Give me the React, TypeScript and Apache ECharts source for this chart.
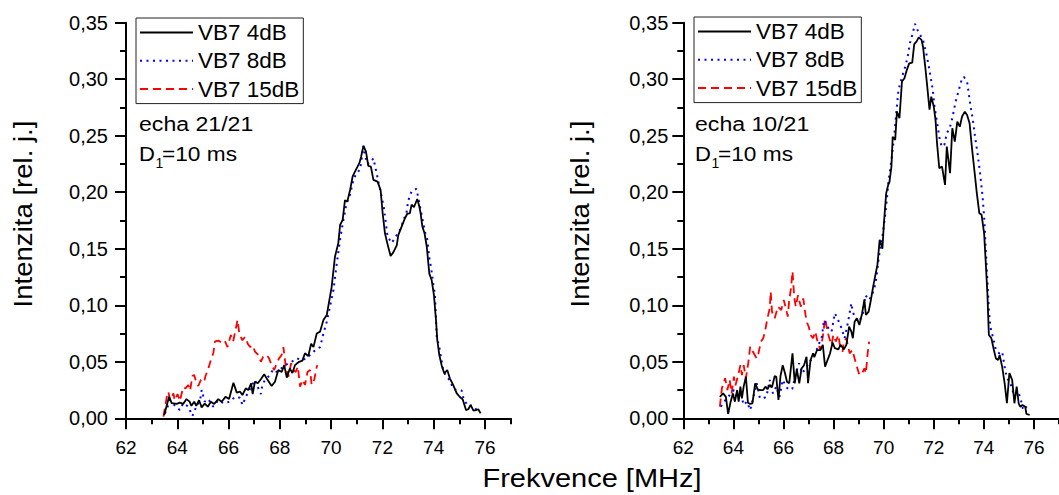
import React, { useEffect, useRef } from "react";
import * as echarts from "echarts";

// ---------- data (frequency MHz, intensity rel. units) ----------
const seriesNames = ["VB7 4dB", "VB7 8dB", "VB7 15dB"];
const xMajorTicks = [62, 64, 66, 68, 70, 72, 74, 76];
const xMinorTicks = [63, 65, 67, 69, 71, 73, 75, 77];

// echa 21/21
const left4dB = [
[63.49,0.003],[63.68,0.019],[63.78,0.0135],[63.98,0.0127],[64.10,0.0138],[64.23,0.0127],[64.36,0.017],[64.48,0.0147],[64.55,0.011],[64.66,0.0147],[64.74,0.011],[64.85,0.016],[64.95,0.0097],[65.07,0.013],[65.19,0.0103],[65.31,0.0147],[65.44,0.0127],[65.60,0.017],[65.73,0.0147],[65.88,0.019],[66.02,0.017],[66.19,0.0315],[66.32,0.0227],[66.45,0.0235],[66.54,0.0206],[66.67,0.0265],[66.77,0.025],[66.88,0.031],[66.94,0.0215],[67.03,0.0324],[67.14,0.031],[67.26,0.0345],[67.39,0.039],[67.52,0.034],[67.68,0.0286],[67.81,0.0324],[67.94,0.0427],[68.07,0.041],[68.17,0.047],[68.27,0.036],[68.39,0.044],[68.49,0.040],[68.59,0.047],[68.75,0.050],[68.88,0.051],[68.98,0.0575],[69.11,0.055],[69.22,0.066],[69.31,0.063],[69.44,0.075],[69.57,0.0767],[69.70,0.087],[69.83,0.0914],[69.92,0.103],[70.02,0.116],[70.15,0.143],[70.28,0.155],[70.35,0.171],[70.45,0.1755],[70.54,0.193],[70.63,0.1917],[70.74,0.202],[70.84,0.214],[70.97,0.22],[71.10,0.2257],[71.17,0.2315],[71.26,0.241],[71.36,0.236],[71.45,0.2233],[71.55,0.2227],[71.65,0.211],[71.81,0.2094],[71.93,0.202],[72.01,0.1814],[72.10,0.1637],[72.19,0.155],[72.32,0.1436],[72.43,0.147],[72.56,0.153],[72.62,0.162],[72.75,0.1696],[72.88,0.177],[72.97,0.181],[73.07,0.1814],[73.14,0.189],[73.23,0.1867],[73.36,0.194],[73.44,0.1873],[73.49,0.1814],[73.56,0.1696],[73.64,0.164],[73.73,0.152],[73.83,0.128],[73.92,0.1224],[74.01,0.109],[74.09,0.087],[74.14,0.0693],[74.22,0.056],[74.31,0.047],[74.41,0.0398],[74.53,0.0427],[74.63,0.0354],[74.76,0.0295],[74.90,0.022],[75.03,0.0186],[75.13,0.0168],[75.26,0.0073],[75.35,0.008],[75.44,0.0118],[75.55,0.0067],[75.65,0.0073],[75.74,0.008],[75.83,0.0044]
];
const left8dB = [
[63.52,0.0044],[63.72,0.016],[63.94,0.0103],[64.10,0.0073],[64.23,0.0133],[64.43,0.0103],[64.59,0.002],[64.74,0.0103],[64.89,0.016],[64.95,0.025],[65.07,0.0147],[65.21,0.017],[65.40,0.0103],[65.60,0.016],[65.80,0.0133],[66.06,0.0147],[66.25,0.019],[66.45,0.0182],[66.54,0.0118],[66.71,0.0206],[66.90,0.0286],[67.03,0.034],[67.10,0.0295],[67.26,0.0215],[67.32,0.0295],[67.42,0.034],[67.62,0.0383],[67.74,0.0433],[67.88,0.041],[68.05,0.044],[68.20,0.047],[68.46,0.050],[68.66,0.053],[68.85,0.0516],[69.05,0.053],[69.24,0.0575],[69.37,0.060],[69.57,0.063],[69.70,0.075],[69.83,0.0855],[69.93,0.096],[70.09,0.1135],[70.22,0.137],[70.35,0.158],[70.45,0.172],[70.60,0.19],[70.74,0.198],[70.87,0.211],[70.99,0.217],[71.13,0.22],[71.26,0.241],[71.40,0.225],[71.52,0.226],[71.65,0.230],[71.82,0.212],[72.05,0.1876],[72.20,0.161],[72.36,0.155],[72.50,0.160],[72.69,0.167],[72.82,0.175],[72.95,0.183],[73.00,0.192],[73.14,0.201],[73.23,0.202],[73.33,0.203],[73.40,0.195],[73.53,0.180],[73.66,0.165],[73.75,0.158],[73.83,0.142],[73.90,0.133],[73.99,0.118],[74.05,0.109],[74.12,0.072],[74.22,0.063],[74.38,0.041],[74.57,0.0354],[74.79,0.0256],[75.09,0.0245],[75.18,0.016],[75.35,0.011],[75.55,0.011],[75.70,0.0065],[75.78,0.005]
];
const left15dB = [
[63.46,0.0015],[63.59,0.019],[63.65,0.0235],[63.72,0.016],[63.85,0.022],[63.90,0.016],[64.01,0.0215],[64.10,0.0153],[64.23,0.0274],[64.32,0.0265],[64.43,0.0295],[64.50,0.0245],[64.59,0.0374],[64.66,0.0383],[64.75,0.031],[64.82,0.0286],[64.92,0.034],[65.05,0.0324],[65.10,0.0374],[65.21,0.044],[65.31,0.0516],[65.41,0.058],[65.47,0.068],[65.60,0.0687],[65.73,0.067],[65.85,0.0687],[65.96,0.063],[66.09,0.0737],[66.18,0.068],[66.27,0.078],[66.35,0.087],[66.42,0.075],[66.54,0.069],[66.64,0.072],[66.75,0.066],[66.84,0.063],[66.94,0.0645],[67.03,0.059],[67.16,0.056],[67.26,0.050],[67.35,0.0545],[67.49,0.056],[67.58,0.053],[67.68,0.047],[67.78,0.0427],[67.88,0.0487],[67.97,0.053],[68.07,0.056],[68.14,0.063],[68.23,0.0457],[68.33,0.0368],[68.44,0.0487],[68.53,0.0427],[68.62,0.041],[68.70,0.0457],[68.79,0.028],[68.88,0.034],[68.98,0.0295],[69.08,0.041],[69.18,0.0427],[69.24,0.0295],[69.34,0.034],[69.44,0.0457],[69.47,0.047]
];

// echa 10/21
const right4dB = [
[63.46,0.019],[63.59,0.022],[63.70,0.019],[63.79,0.0038],[63.89,0.0147],[63.98,0.022],[64.06,0.0147],[64.15,0.025],[64.21,0.0147],[64.28,0.028],[64.34,0.0177],[64.41,0.028],[64.50,0.0368],[64.58,0.0138],[64.67,0.0127],[64.76,0.0133],[64.87,0.031],[64.97,0.0257],[65.06,0.025],[65.19,0.025],[65.28,0.028],[65.36,0.0257],[65.45,0.0295],[65.54,0.0274],[65.65,0.0374],[65.71,0.0368],[65.80,0.0162],[65.88,0.0374],[65.97,0.047],[66.06,0.0398],[66.14,0.0324],[66.23,0.031],[66.36,0.0575],[66.45,0.031],[66.53,0.0433],[66.63,0.031],[66.72,0.044],[66.82,0.047],[66.92,0.0545],[66.98,0.031],[67.08,0.0516],[67.18,0.0575],[67.23,0.054],[67.34,0.0604],[67.47,0.0604],[67.57,0.065],[67.66,0.0457],[67.76,0.0516],[67.86,0.0575],[67.96,0.067],[68.05,0.062],[68.19,0.061],[68.28,0.065],[68.41,0.061],[68.51,0.065],[68.62,0.081],[68.71,0.0767],[68.77,0.0708],[68.84,0.0855],[68.93,0.0885],[69.03,0.0826],[69.14,0.093],[69.23,0.1047],[69.29,0.0914],[69.40,0.0944],[69.49,0.1047],[69.58,0.1165],[69.68,0.128],[69.75,0.1357],[69.84,0.158],[69.95,0.150],[70.01,0.1726],[70.10,0.199],[70.18,0.2065],[70.23,0.209],[70.31,0.2227],[70.36,0.249],[70.46,0.2463],[70.53,0.2713],[70.63,0.2655],[70.73,0.2979],[70.83,0.3009],[70.92,0.308],[71.02,0.314],[71.14,0.3147],[71.22,0.331],[71.31,0.3333],[71.40,0.337],[71.51,0.3348],[71.57,0.3289],[71.66,0.311],[71.74,0.2935],[71.83,0.273],[71.90,0.2846],[72.00,0.2758],[72.07,0.264],[72.13,0.2434],[72.22,0.2212],[72.33,0.2227],[72.45,0.2065],[72.52,0.2404],[72.65,0.2168],[72.74,0.2566],[72.84,0.2448],[72.94,0.2625],[73.04,0.258],[73.13,0.267],[73.24,0.2713],[73.33,0.2684],[73.43,0.261],[73.52,0.2404],[73.62,0.2197],[73.72,0.199],[73.82,0.1814],[73.91,0.180],[74.01,0.1637],[74.07,0.140],[74.14,0.1106],[74.20,0.0737],[74.30,0.0708],[74.40,0.0604],[74.48,0.053],[74.57,0.0516],[74.63,0.056],[74.73,0.0457],[74.83,0.031],[74.92,0.0133],[75.02,0.040],[75.13,0.034],[75.22,0.0133],[75.31,0.028],[75.39,0.0133],[75.45,0.0103],[75.54,0.0118],[75.65,0.0103],[75.70,0.0038],[75.83,0.003]
];
const right8dB = [
[63.50,0.0103],[63.62,0.0147],[63.76,0.0177],[63.89,0.022],[64.02,0.025],[64.15,0.0177],[64.28,0.023],[64.41,0.0118],[64.54,0.0147],[64.67,0.0073],[64.80,0.019],[64.93,0.031],[65.06,0.0177],[65.19,0.0177],[65.32,0.019],[65.45,0.034],[65.58,0.022],[65.71,0.028],[65.84,0.019],[65.97,0.034],[66.10,0.028],[66.23,0.025],[66.36,0.0265],[66.49,0.0398],[66.62,0.0487],[66.75,0.0398],[66.88,0.044],[67.01,0.0487],[67.14,0.053],[67.27,0.0575],[67.40,0.065],[67.53,0.072],[67.62,0.087],[67.73,0.0826],[67.83,0.078],[67.92,0.0767],[68.05,0.093],[68.18,0.087],[68.32,0.0796],[68.44,0.0708],[68.58,0.0855],[68.71,0.1018],[68.77,0.094],[68.88,0.088],[69.01,0.0855],[69.16,0.0914],[69.27,0.109],[69.42,0.1047],[69.55,0.11],[69.68,0.1195],[69.81,0.143],[69.95,0.161],[70.07,0.181],[70.20,0.211],[70.31,0.2286],[70.41,0.247],[70.49,0.267],[70.59,0.2905],[70.73,0.302],[70.86,0.311],[70.96,0.32],[71.05,0.332],[71.16,0.3407],[71.25,0.349],[71.38,0.342],[71.57,0.3348],[71.70,0.323],[71.83,0.308],[71.96,0.2905],[72.03,0.2758],[72.16,0.258],[72.22,0.249],[72.31,0.2404],[72.42,0.2418],[72.52,0.252],[72.65,0.258],[72.74,0.2655],[72.87,0.280],[73.00,0.2905],[73.13,0.301],[73.20,0.302],[73.33,0.298],[73.46,0.2773],[73.56,0.264],[73.65,0.249],[73.75,0.234],[73.85,0.2168],[73.95,0.196],[74.02,0.1755],[74.07,0.152],[74.14,0.1224],[74.20,0.096],[74.26,0.081],[74.38,0.070],[74.48,0.0604],[74.61,0.0575],[74.73,0.059],[74.83,0.0457],[74.92,0.0354],[75.05,0.032],[75.18,0.022],[75.35,0.025],[75.48,0.0162],[75.57,0.0073],[75.70,0.0103],[75.80,0.0133]
];
const right15dB = [
[63.46,0.0103],[63.54,0.0265],[63.67,0.0354],[63.76,0.025],[63.85,0.034],[63.93,0.022],[64.02,0.0368],[64.08,0.029],[64.19,0.0383],[64.28,0.047],[64.34,0.0383],[64.41,0.047],[64.50,0.0354],[64.60,0.050],[64.67,0.0634],[64.74,0.0604],[64.93,0.053],[65.00,0.0575],[65.10,0.0678],[65.19,0.0708],[65.26,0.0767],[65.36,0.0885],[65.45,0.0973],[65.49,0.112],[65.54,0.0944],[65.65,0.0885],[65.78,0.0988],[65.91,0.0958],[66.01,0.1047],[66.10,0.097],[66.17,0.090],[66.23,0.1047],[66.30,0.115],[66.36,0.13],[66.43,0.107],[66.49,0.0988],[66.58,0.109],[66.69,0.0988],[66.79,0.106],[66.88,0.0914],[66.95,0.084],[67.01,0.081],[67.08,0.0737],[67.18,0.0708],[67.27,0.0767],[67.36,0.0678],[67.47,0.0604],[67.57,0.072],[67.66,0.0885],[67.76,0.0767],[67.83,0.0708],[67.92,0.065],[67.99,0.0737],[68.09,0.068],[68.19,0.0737],[68.25,0.065],[68.36,0.059],[68.41,0.068],[68.51,0.0708],[68.64,0.0575],[68.75,0.0604],[68.84,0.053],[68.93,0.0457],[69.03,0.0383],[69.14,0.0398],[69.23,0.0442],[69.29,0.0398],[69.36,0.0575],[69.42,0.0678]
];

const FONT = '"Liberation Sans", Arial, Helvetica, sans-serif';

const lineStyles = [
  { color: "#000000", width: 1.8, type: "solid" },
  { color: "#0000ff", width: 2, type: [2, 4.5] },
  { color: "#ff0000", width: 1.8, type: [8, 5] },
];

function buildOption() {
  const grids = [
    { left: 126, top: 22.7, width: 384.6, height: 395.6 },
    { left: 683.3, top: 22.7, width: 384, height: 395.6 },
  ];

  const xMain = (gi: number) => ({
    type: "value",
    gridIndex: gi,
    position: "bottom",
    min: 62,
    max: 77,
    interval: 1,
    axisLine: { show: true, onZero: false, lineStyle: { color: "#000", width: 2 } },
    axisTick: { show: true, length: 11, inside: false, lineStyle: { color: "#000", width: 2 }, customValues: xMajorTicks },
    axisLabel: {
      show: true, margin: 20, color: "#000", fontSize: 19, fontFamily: FONT,
      customValues: xMajorTicks,
      formatter: (v: number) => String(v),
    },
    splitLine: { show: false },
  });
  const xMinor = (gi: number) => ({
    type: "value",
    gridIndex: gi,
    position: "bottom",
    offset: 0,
    min: 62,
    max: 77,
    interval: 1,
    axisLine: { show: false },
    axisTick: { show: true, length: 6, lineStyle: { color: "#000", width: 2 }, customValues: xMinorTicks },
    axisLabel: { show: false },
    splitLine: { show: false },
  });
  const yAx = (gi: number) => ({
    type: "value",
    gridIndex: gi,
    min: 0,
    max: 0.35,
    interval: 0.05,
    axisLine: { show: true, onZero: false, lineStyle: { color: "#000", width: 2 } },
    axisTick: { show: true, length: 11, lineStyle: { color: "#000", width: 2 } },
    minorTick: { show: true, splitNumber: 2, length: 6, lineStyle: { color: "#000", width: 2 } },
    axisLabel: {
      margin: gi === 0 ? 18 : 15, color: "#000", fontSize: 20, fontFamily: FONT,
      formatter: (v: number) => v.toFixed(2).replace(".", ","),
    },
    splitLine: { show: false },
    minorSplitLine: { show: false },
  });

  const datasets = [
    [left4dB, left8dB, left15dB],
    [right4dB, right8dB, right15dB],
  ];
  const series: any[] = [];
  datasets.forEach((group, gi) => {
    group.forEach((data, si) => {
      series.push({
        type: "line",
        name: seriesNames[si],
        xAxisIndex: gi,
        yAxisIndex: gi,
        data,
        symbol: "none",
        showSymbol: false,
        clip: true,
        lineStyle: lineStyles[si],
        itemStyle: { color: lineStyles[si].color },
        z: 10 - si,
      });
    });
  });

  const legendBase = {
    orient: "vertical",
    padding: [3, 4, 3, 3],
    itemGap: 5.3,
    itemWidth: 53,
    itemHeight: 14,
    borderColor: "#222",
    borderWidth: 1,
    selectedMode: false,
    itemStyle: { opacity: 0 },
    textStyle: { fontSize: 22.5, fontFamily: FONT, color: "#000", lineHeight: 23 },
    data: seriesNames,
  };

  const txt = (text: string, x: number, y: number, size: number, opts: any = {}) => ({
    type: "text",
    x,
    y,
    silent: true,
    rotation: opts.rotation || 0,
    scaleX: opts.scaleX || 1,
    style: {
      text,
      fontSize: size,
      fontFamily: FONT,
      fill: "#000000",
      opacity: 1,
      align: opts.align || "left",
      verticalAlign: "middle",
    },
  });

  const graphic = [
    txt("echa 21/21", 139, 124, 21, { scaleX: 1.1 }),
    txt("D", 139, 154, 21, { scaleX: 1.05 }),
    txt("1", 155.5, 163, 14),
    txt("=10 ms", 162, 154, 21, { scaleX: 1.08 }),
    txt("echa 10/21", 695, 124, 21, { scaleX: 1.1 }),
    txt("D", 695, 154, 21, { scaleX: 1.05 }),
    txt("1", 711.5, 163, 14),
    txt("=10 ms", 718, 154, 21, { scaleX: 1.08 }),
    txt("Intenzita [rel. j.]", 23, 214, 26, { rotation: Math.PI / 2, align: "center", scaleX: 1.06 }),
    txt("Intenzita [rel. j.]", 580, 214, 26, { rotation: Math.PI / 2, align: "center", scaleX: 1.06 }),
    txt("Frekvence [MHz]", 592, 478, 25, { align: "center", scaleX: 1.16 }),
  ];

  return {
    animation: false,
    backgroundColor: "#ffffff",
    grid: grids,
    xAxis: [xMain(0), xMain(1), xMinor(0), xMinor(1)],
    yAxis: [yAx(0), yAx(1)],
    legend: [
      { ...legendBase, left: 136, top: 18 },
      { ...legendBase, left: 694, top: 17 },
    ],
    series,
    graphic,
  };
}

export default function App() {
  const ref = useRef<HTMLDivElement | null>(null);
  useEffect(() => {
    if (!ref.current) return;
    const chart = echarts.init(ref.current, undefined, { renderer: "svg" });
    chart.setOption(buildOption() as any);
    return () => chart.dispose();
  }, []);
  return (
    <div
      ref={ref}
      style={{ position: "absolute", left: 0, top: 0, width: 1059, height: 495, background: "#fff" }}
    />
  );
}
